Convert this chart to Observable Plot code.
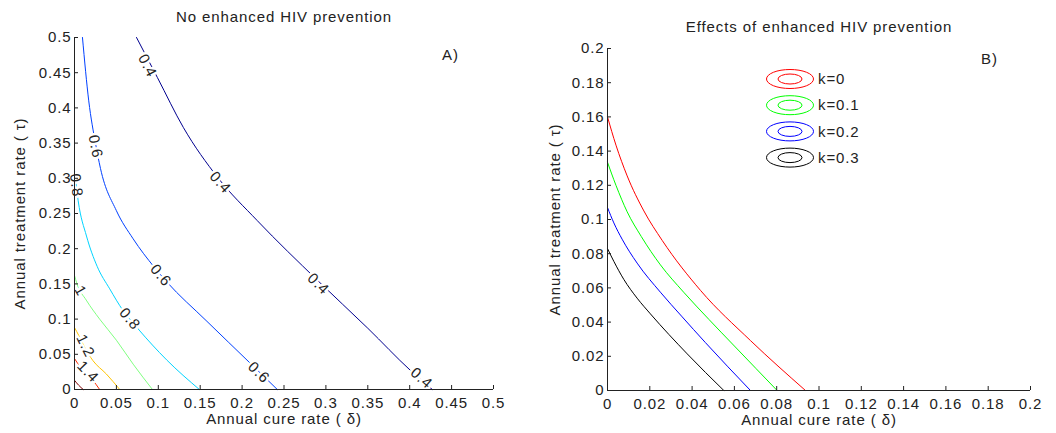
<!DOCTYPE html>
<html>
<head>
<meta charset="utf-8">
<script src="https://cdn.jsdelivr.net/npm/d3@7"></script>
<script src="https://cdn.jsdelivr.net/npm/@observablehq/plot@0.6"></script>
<style>
  body { margin: 0; background: #fff; }
  #wrap { position: relative; width: 1056px; height: 433px; overflow: hidden; background: #fff; }
  #wrap svg { position: absolute; top: 0; }
  #wrap svg text { letter-spacing: 0.9px; }
</style>
</head>
<body>
<div id="wrap"></div>
<script>
// ---------------- Panel A: contour levels ----------------
const levelsA = [0.4, 0.6, 0.8, 1, 1.2, 1.4, 1.6];
const colorsA = ["#00008f", "#0040ff", "#00d4ff", "#80ff80", "#ffc400", "#ff2a00", "#800000"];

const a04x = [0.074, 0.099, 0.13, 0.171, 0.218, 0.29, 0.35, 0.401, 0.427];
const a04y = [0.5, 0.443, 0.372, 0.301, 0.24, 0.155, 0.087, 0.027, 0];
const a06x = [0.0095, 0.017, 0.025, 0.031, 0.05, 0.07, 0.095, 0.11, 0.157, 0.21, 0.242];
const a06y = [0.5, 0.41, 0.35, 0.314, 0.254, 0.214, 0.174, 0.153, 0.098, 0.037, 0];
const a08x = [0, 0.0044, 0.0143, 0.027, 0.042, 0.058, 0.076, 0.11, 0.149];
const a08y = [0.311, 0.268, 0.218, 0.175, 0.143, 0.112, 0.086, 0.042, 0];
const a10x = [0, 0.003, 0.014, 0.03, 0.05, 0.07, 0.093];
const a10y = [0.162, 0.15, 0.127, 0.1, 0.07, 0.036, 0];
const a12x = [0, 0.005, 0.012, 0.022, 0.038, 0.054];
const a12y = [0.088, 0.077, 0.06, 0.041, 0.022, 0];
const a14x = [0, 0.008, 0.022, 0.030];
const a14y = [0.044, 0.03, 0.013, 0];
const a16x = [0, 0.005, 0.0104];
const a16y = [0.013, 0.006, 0];

// inline contour labels (level, position on the curve)
const labelLevel = [0.4, 0.4, 0.4, 0.4, 0.6, 0.6, 0.6, 0.8, 0.8, 1, 1.2, 1.4];
const labelX = [0.087, 0.174, 0.291, 0.414, 0.025, 0.103, 0.22, 0.002, 0.066, 0.007, 0.013, 0.016];
const labelY = [0.46, 0.294, 0.15, 0.016, 0.345, 0.162, 0.024, 0.29, 0.1, 0.14, 0.062, 0.025];

const ticksA = [0, 0.05, 0.1, 0.15, 0.2, 0.25, 0.3, 0.35, 0.4, 0.45, 0.5];

// ---------------- Panel B: threshold curves for k ----------------
const kValues = [0, 0.1, 0.2, 0.3];
const kLabels = ["k=0", "k=0.1", "k=0.2", "k=0.3"];
const kColors = ["#ff0000", "#00ff00", "#0000ff", "#000000"];
const bK0x = [0, 0.004, 0.0093, 0.0172, 0.0259, 0.044, 0.0676, 0.0936];
const bK0y = [0.16, 0.1435, 0.1255, 0.105, 0.0877, 0.0585, 0.0292, 0];
const bK1x = [0, 0.004, 0.0093, 0.016, 0.025, 0.036, 0.048, 0.06, 0.0802];
const bK1y = [0.1335, 0.12, 0.1045, 0.09, 0.0735, 0.0575, 0.0415, 0.026, 0];
const bK2x = [0, 0.003, 0.0069, 0.014, 0.025, 0.035, 0.0463, 0.0676];
const bK2y = [0.107, 0.098, 0.0885, 0.0745, 0.0575, 0.0435, 0.028, 0];
const bK3x = [0, 0.003, 0.0077, 0.014, 0.0203, 0.0377, 0.055];
const bK3y = [0.083, 0.0755, 0.065, 0.054, 0.0448, 0.0214, 0];

const ticksB = [0, 0.02, 0.04, 0.06, 0.08, 0.1, 0.12, 0.14, 0.16, 0.18, 0.2];

const titleA = "No enhanced HIV prevention";
const titleB = "Effects of enhanced HIV prevention";
const xLabel = "Annual cure rate ( \u03b4)";
const yLabel = "Annual treatment rate ( \u03c4)";

// ---------------- build tables ----------------
const curvesA = [[a04x, a04y], [a06x, a06y], [a08x, a08y], [a10x, a10y], [a12x, a12y], [a14x, a14y], [a16x, a16y]];
const rowsA = curvesA.flatMap(([xs, ys], i) => xs.map((x, j) => ({x, y: ys[j], level: levelsA[i]})));
const curvesB = [[bK0x, bK0y], [bK1x, bK1y], [bK2x, bK2y], [bK3x, bK3y]];
const rowsB = curvesB.flatMap(([xs, ys], i) => xs.map((x, j) => ({x, y: ys[j], k: kValues[i]})));

const fmt = d => d === 0 ? "0" : String(+d.toFixed(3));
const FONT = '"Liberation Sans", Arial, Helvetica, sans-serif';
const INK = "#222222";
const W = 528, H = 433;
const T = {fill: INK, textAnchor: "middle", lineAnchor: "middle", text: d => d};
const blank = () => "";

// panel A geometry
const mA = {left: 74, right: 35, top: 37, bottom: 44};
const kxA = (W - mA.left - mA.right) / 0.5, kyA = (H - mA.top - mA.bottom) / 0.5;

function angleAt(xs, ys, x, y, kx, ky) {
  let best = 0, bd = Infinity;
  for (let i = 0; i < xs.length - 1; i++) {
    const x1 = xs[i] * kx, y1 = ys[i] * ky, x2 = xs[i + 1] * kx, y2 = ys[i + 1] * ky;
    const px = x * kx, py = y * ky;
    const dx = x2 - x1, dy = y2 - y1;
    let t = ((px - x1) * dx + (py - y1) * dy) / (dx * dx + dy * dy);
    t = Math.max(0, Math.min(1, t));
    const d = (x1 + t * dx - px) ** 2 + (y1 + t * dy - py) ** 2;
    if (d < bd) { bd = d; best = i; }
  }
  const dx = (xs[best + 1] - xs[best]) * kx, dy = (ys[best] - ys[best + 1]) * ky;
  return Math.atan2(dy, dx) * 180 / Math.PI;
}

const labelsA = labelLevel.map((lv, i) => {
  const [xs, ys] = curvesA[levelsA.indexOf(lv)];
  return {x: labelX[i], y: labelY[i], text: String(lv), angle: angleAt(xs, ys, labelX[i], labelY[i], kxA, kyA)};
});

function axesMarks(ticks) {
  return [
    Plot.ruleX([0], {stroke: INK}),
    Plot.ruleY([0], {stroke: INK}),
    // inward ticks
    Plot.axisX(ticks, {tickSize: 4, dy: -4, tickFormat: blank, stroke: INK, label: null}),
    Plot.axisY(ticks, {tickSize: 4, dx: 4, tickFormat: blank, stroke: INK, label: null}),
    // tick labels
    Plot.axisX(ticks, {tickSize: 0, tickPadding: 8, tickFormat: fmt, fill: INK, label: null}),
    Plot.axisY(ticks, {tickSize: 0, tickPadding: 3, tickFormat: fmt, fill: INK, label: null})
  ];
}

const plotA = Plot.plot({
  width: W, height: H,
  marginLeft: mA.left, marginRight: mA.right, marginTop: mA.top, marginBottom: mA.bottom,
  style: {fontFamily: FONT, fontSize: "15px", color: INK, background: "transparent", overflow: "visible"},
  x: {domain: [0, 0.5], label: null},
  y: {domain: [0, 0.5], label: null},
  color: {type: "ordinal", domain: levelsA, range: colorsA},
  marks: [
    Plot.line(rowsA, {x: "x", y: "y", z: "level", stroke: "level", strokeWidth: 1, curve: "monotone-x"}),
    Plot.text(labelsA, {x: "x", y: "y", text: "text", rotate: "angle", fill: INK, stroke: "white", strokeWidth: 5, paintOrder: "stroke", fontSize: 15}),
    ...axesMarks(ticksA),
    Plot.text([xLabel], {...T, frameAnchor: "bottom", dy: 30}),
    Plot.text([yLabel], {...T, frameAnchor: "left", dx: -54, rotate: -90}),
    Plot.text([titleA], {...T, frameAnchor: "top", dy: -20}),
    Plot.text(["A)"], {...T, frameAnchor: "top-right", dx: -43, dy: 18})
  ]
});

// panel B geometry
const mB = {left: 79, right: 26, top: 48, bottom: 43};
const plotB = Plot.plot({
  width: W, height: H,
  marginLeft: mB.left, marginRight: mB.right, marginTop: mB.top, marginBottom: mB.bottom,
  style: {fontFamily: FONT, fontSize: "15px", color: INK, background: "transparent", overflow: "visible"},
  x: {domain: [0, 0.2], label: null},
  y: {domain: [0, 0.2], label: null},
  color: {type: "ordinal", domain: kValues, range: kColors},
  marks: [
    Plot.line(rowsB, {x: "x", y: "y", z: "k", stroke: "k", strokeWidth: 1, curve: "monotone-x"}),
    ...axesMarks(ticksB),
    Plot.text([xLabel], {...T, frameAnchor: "bottom", dy: 30}),
    Plot.text([yLabel], {...T, frameAnchor: "left", dx: -52.5, rotate: -90}),
    Plot.text([titleB], {...T, frameAnchor: "top", dy: -21}),
    Plot.text(["B)"], {...T, frameAnchor: "top-right", dx: -41, dy: 11})
  ]
});

// legend for panel B (concentric-ellipse contour icons)
const leg = d3.select(plotB).append("g").attr("class", "legend");
kValues.forEach((k, i) => {
  const cy = 79 + i * 26.2, cx = 262;
  leg.append("ellipse").attr("cx", cx).attr("cy", cy).attr("rx", 23.5).attr("ry", 9.5)
    .attr("fill", "none").attr("stroke", kColors[i]).attr("stroke-width", 1);
  leg.append("ellipse").attr("cx", cx).attr("cy", cy).attr("rx", 12).attr("ry", 5)
    .attr("fill", "none").attr("stroke", kColors[i]).attr("stroke-width", 1);
  leg.append("text").attr("x", cx + 28).attr("y", cy).attr("dy", "0.35em")
    .attr("text-anchor", "start").attr("fill", INK).attr("font-size", 15).text(kLabels[i]);
});

plotA.style.left = "0px";
plotB.style.left = W + "px";
document.getElementById("wrap").append(plotA, plotB);
</script>
</body>
</html>
